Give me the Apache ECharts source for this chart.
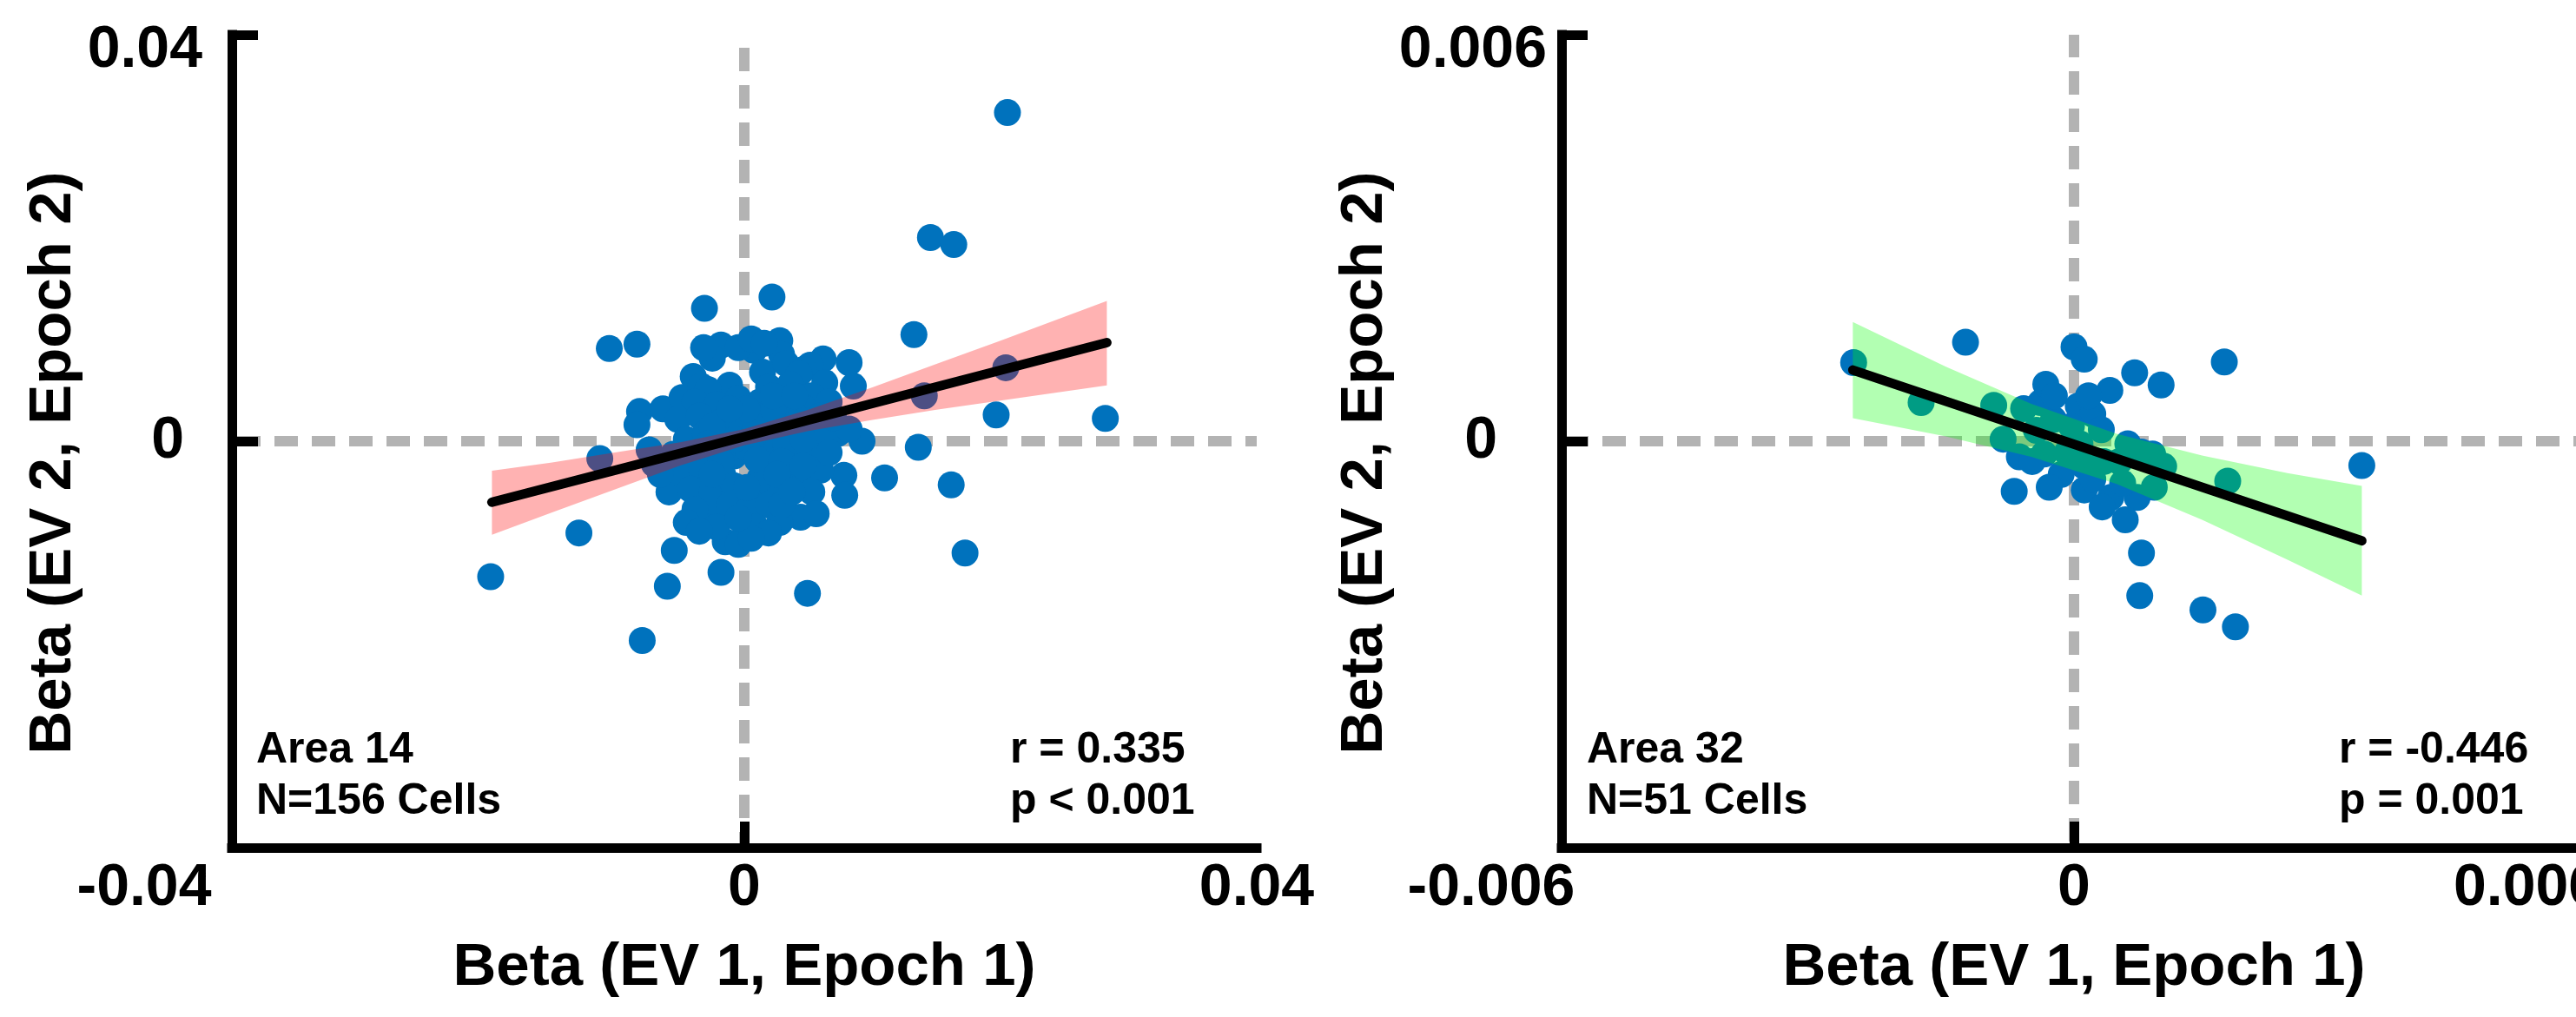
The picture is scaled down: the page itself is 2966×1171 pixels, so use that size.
<!DOCTYPE html>
<html>
<head>
<meta charset="utf-8">
<script src="https://cdn.jsdelivr.net/npm/echarts@6/dist/echarts.min.js"></script>
<style>
  html, body { margin: 0; background: #fff; }
  #chart { width: 2966px; height: 1171px; }
</style>
</head>
<body>
<div id="chart"></div>
<script>
// Area 14 cells: [beta EV1 epoch1, beta EV2 epoch2]
var area14Points = [
  [0.02054, 0.03234], [0.01453, 0.02004], [0.01635, 0.01935], [0.01324, 0.01049], [0.02041, 0.00723],
  [0.01405, 0.00447], [0.01966, 0.00258], [0.02818, 0.00224], [0.01358, -0.00060], [0.01095, -0.00361],
  [0.01615, -0.00430], [0.00777, -0.00335], [0.00784, -0.00533], [0.00818, 0.00774], [0.00851, 0.00542],
  [0.00615, 0.00809], [0.00919, 0.00000], [0.00730, 0.00077], [0.00818, 0.00120], [0.00216, 0.01419],
  [0.00331, -0.00705], [0.00439, -0.00748], [0.00378, -0.00353], [0.00493, -0.00077], [0.01723, -0.01101],
  [0.00493, -0.01497], [0.00514, 0.00748], [0.00277, 0.00989], [0.00074, 0.00895], [0.00000, -0.00817],
  [0.00088, -0.00654], [-0.00311, 0.01308], [-0.01054, 0.00912], [-0.00838, 0.00955], [-0.00182, 0.00946],
  [-0.00250, 0.00817], [-0.00399, 0.00637], [-0.00115, 0.00551], [-0.00818, 0.00292], [-0.00635, 0.00318],
  [-0.00486, 0.00430], [-0.00838, 0.00163], [-0.00743, -0.00086], [-0.01128, -0.00172], [-0.00703, -0.00224],
  [-0.00588, -0.00499], [-0.00270, -0.00688], [-0.00149, -0.00989], [-0.00182, -0.01290], [-0.00547, -0.01075],
  [-0.00601, -0.01428], [-0.01291, -0.00903], [-0.01980, -0.01333], [-0.00797, -0.01961], [0.00291, 0.00852],
  [0.00459, 0.00705], [-0.00338, 0.00542],
  [0.00142, 0.00680], [0.00324, 0.00766], [0.00426, 0.00662], [-0.00284, 0.00508], [0.00189, 0.00533],
  [0.00358, 0.00559], [0.00628, 0.00576], [0.00527, 0.00447], [-0.00385, 0.00387], [-0.00216, 0.00361],
  [-0.00047, 0.00422], [0.00122, 0.00387], [0.00291, 0.00361], [0.00459, 0.00335], [0.00662, 0.00387],
  [-0.00520, 0.00215], [-0.00351, 0.00249], [-0.00182, 0.00189], [-0.00014, 0.00232], [0.00142, 0.00249],
  [0.00291, 0.00163], [0.00426, 0.00215], [0.00595, 0.00249], [-0.00453, 0.00017], [-0.00304, 0.00077],
  [-0.00128, 0.00043], [0.00034, 0.00060], [0.00189, 0.00017], [0.00345, 0.00077], [0.00493, 0.00103],
  [0.00628, 0.00017], [-0.00554, -0.00129], [-0.00385, -0.00155], [-0.00236, -0.00095], [-0.00081, -0.00146],
  [0.00088, -0.00112], [0.00243, -0.00163], [0.00392, -0.00112], [0.00561, -0.00155], [-0.00486, -0.00327],
  [-0.00331, -0.00284], [-0.00169, -0.00327], [0.00155, -0.00327], [0.00324, -0.00284], [0.00480, -0.00353],
  [0.00595, -0.00284], [-0.00419, -0.00473], [-0.00250, -0.00499], [-0.00081, -0.00439], [0.00074, -0.00499],
  [0.00223, -0.00456], [0.00527, -0.00499], [-0.00385, -0.00671], [-0.00115, -0.00628], [0.00034, -0.00671],
  [0.00189, -0.00628], [0.00277, -0.00800], [-0.00216, -0.00843], [0.00088, -0.00843], [0.00189, -0.00903],
  [-0.00047, -0.01015], [0.00054, -0.00955],
  [-0.00047, 0.00146], [0.00088, 0.00146], [0.00020, -0.00069], [0.00155, -0.00198], [-0.00081, 0.00017],
  [-0.00182, -0.00198], [0.00257, -0.00069], [0.00122, -0.00370], [0.00358, -0.00198], [-0.00250, 0.00146],
  [0.00223, 0.00318], [0.00020, 0.00318], [-0.00115, 0.00318], [-0.00284, -0.00026], [0.00324, -0.00026],
  [0.00459, 0.00017], [0.00101, -0.00181], [0.00223, 0.00447], [0.00392, 0.00447], [0.00291, -0.00198],
  [-0.00250, -0.00327], [0.00020, -0.00456], [0.00459, -0.00241], [0.00257, -0.00327], [-0.00047, -0.00757],
  [-0.00318, 0.00920], [-0.00047, 0.00920], [0.00054, 0.01006], [0.00561, -0.00714], [0.00291, -0.00628],
  [0.00372, -0.00499], [-0.00453, -0.00800], [-0.00351, -0.00886], [0.00662, -0.00112], [0.00696, 0.00232],
  [-0.00655, -0.00327], [0.00155, 0.00963]
];

// Area 32 cells
var area32Points = [
  [-0.00258, 0.00116], [-0.00127, 0.00146], [-0.00179, 0.00057], [-0.00094, 0.00053], [-0.00083, 0.00003],
  [-0.00064, -0.00023], [-0.00070, -0.00074], [-0.00035, -0.00019], [-0.00024, 0.00032], [-0.00039, 0.00057],
  [-0.00033, 0.00084], [0.00000, 0.00139], [0.00012, 0.00121], [0.00071, 0.00101], [0.00102, 0.00083],
  [0.00042, 0.00075], [0.00176, 0.00117], [0.00005, 0.00052], [0.00022, 0.00040], [0.00032, 0.00017],
  [0.00079, -0.00016], [0.00105, -0.00037], [0.00180, -0.00059], [0.00337, -0.00036], [-0.00015, -0.00049],
  [0.00012, -0.00072], [0.00043, -0.00083], [0.00074, -0.00083], [0.00057, -0.00062], [0.00012, -0.00037],
  [0.00060, -0.00116], [0.00079, -0.00165], [0.00077, -0.00228], [0.00151, -0.00249], [0.00189, -0.00274],
  [0.00035, -0.00030], [-0.00023, 0.00067], [-0.00003, 0.00022], [-0.00049, -0.00030], [-0.00008, -0.00017],
  [0.00022, -0.00056], [0.00053, -0.00030], [-0.00029, -0.00068], [0.00033, -0.00097], [0.00094, -0.00068],
  [-0.00044, 0.00016], [0.00017, 0.00067], [-0.00059, 0.00048], [0.00063, -0.00004], [0.00092, -0.00019],
  [0.00007, -0.00004]
];

// regression lines (end points)
var area14Fit = [[-0.0197, -0.0060], [0.0283, 0.0097]];
var area32Fit = [[-0.00259, 0.00105], [0.00337, -0.00147]];

// confidence bands
var band14X  = [-0.0197, -0.015, -0.01, -0.005, 0, 0.005, 0.01, 0.015, 0.02, 0.0283];
var band14Lo = [-0.0092, -0.0070, -0.0047, -0.0024, -0.0004, 0.0010, 0.0021, 0.0031, 0.0040, 0.0055];
var band14Hi = [-0.0029, -0.0021, -0.0011, -0.0001, 0.0012, 0.0031, 0.0053, 0.0076, 0.0099, 0.0138];
var band32X  = [-0.00259, -0.0015, -0.0005, 0.0005, 0.0015, 0.0025, 0.00337];
var band32Lo = [0.00034, 0.00007, -0.00023, -0.00063, -0.00116, -0.00175, -0.00228];
var band32Hi = [0.00176, 0.00110, 0.00055, 0.00011, -0.00021, -0.00047, -0.00066];

var ticks14 = ['-0.04', '0', '0.04'];
var ticks32 = ['-0.006', '0', '0.006'];

var FONT = '"Liberation Sans", Arial, Helvetica, sans-serif';
var tickFont = {fontFamily: FONT, fontWeight: 'bold', fontSize: 68, color: '#000'};

function rich(extra) {
  return Object.assign({}, tickFont, extra || {});
}

function tickIndex(v, lim) {
  if (v < -lim / 2) return 0;
  if (v > lim / 2) return 2;
  return 1;
}

function makeXAxis(grid, lim, labels, padLo, padHi) {
  return {
    gridIndex: grid, type: 'value', min: -lim, max: lim, interval: lim, z: 10,
    name: 'Beta (EV 1, Epoch 1)', nameLocation: 'middle', nameGap: 104,
    nameTextStyle: {fontFamily: FONT, fontWeight: 'bold', fontSize: 69, color: '#000'},
    axisLine: {show: true, onZero: false, lineStyle: {color: '#000', width: 11, cap: 'square'}},
    axisTick: {show: true, inside: true, length: 30, customValues: [-lim, 0],
               lineStyle: {color: '#000', width: 11}},
    splitLine: {show: false},
    axisLabel: {
      margin: 13,
      formatter: function (v) {
        var i = tickIndex(v, lim);
        return ['{lo|', '{mid|', '{hi|'][i] + labels[i] + '}';
      },
      rich: {
        lo: rich({padding: [0, padLo, 0, 0]}),
        mid: rich(),
        hi: rich({padding: [0, padHi, 0, 0]})
      }
    }
  };
}

function makeYAxis(grid, lim, labels, margin, padZero) {
  return {
    gridIndex: grid, type: 'value', min: -lim, max: lim, interval: lim, z: 10,
    name: 'Beta (EV 2, Epoch 2)', nameLocation: 'middle', nameGap: 140,
    nameTextStyle: {fontFamily: FONT, fontWeight: 'bold', fontSize: 69, color: '#000',
                    padding: [0, 50, 0, 0]},
    axisLine: {show: true, onZero: false, lineStyle: {color: '#000', width: 11, cap: 'square'}},
    axisTick: {show: true, inside: true, length: 30, customValues: [0, lim],
               lineStyle: {color: '#000', width: 11}},
    splitLine: {show: false},
    axisLabel: {
      margin: margin,
      formatter: function (v) {
        var i = tickIndex(v, lim);
        if (i === 0) return '';
        return (i === 2 ? '{top|' : '{zero|') + labels[i] + '}';
      },
      rich: {
        top: rich({padding: [36, 0, 0, 0]}),
        zero: rich({padding: [0, padZero, 0, 0]})
      }
    }
  };
}

function bandSeries(axis, xs, lo, hi, fill) {
  return {
    type: 'custom', xAxisIndex: axis, yAxisIndex: axis, z: 3, silent: true,
    data: xs.map(function (x, i) { return [x, lo[i], hi[i]]; }),
    encode: {x: 0, y: [1, 2]},
    renderItem: function (params, api) {
      if (params.dataIndex !== 0) return null;
      var pts = [];
      for (var i = 0; i < xs.length; i++) pts.push(api.coord([xs[i], hi[i]]));
      for (var j = xs.length - 1; j >= 0; j--) pts.push(api.coord([xs[j], lo[j]]));
      return {type: 'polygon', shape: {points: pts}, style: {fill: fill}};
    }
  };
}

// dashed zero lines sit under the points; offsets line the dashes up with the figure
function scatterSeries(axis, pts, vOffset, hOffset) {
  return {
    type: 'scatter', xAxisIndex: axis, yAxisIndex: axis, data: pts, z: 2,
    symbol: 'circle', symbolSize: 31, silent: true,
    itemStyle: {color: '#0072BD', opacity: 1},
    markLine: {
      silent: true, symbol: 'none', z: 1, animation: false,
      label: {show: false},
      lineStyle: {color: '#B3B3B3', width: 12, type: [27, 16], opacity: 1},
      emphasis: {disabled: true},
      data: [
        {xAxis: 0, lineStyle: {dashOffset: vOffset}},
        {yAxis: 0, lineStyle: {dashOffset: hOffset}}
      ]
    }
  };
}

function fitSeries(axis, pts) {
  return {
    type: 'line', xAxisIndex: axis, yAxisIndex: axis, data: pts, z: 4,
    symbol: 'none', silent: true,
    lineStyle: {color: '#000', width: 11, cap: 'round'}
  };
}

function note(left, top, text) {
  return {
    type: 'text', left: left, top: top, silent: true,
    style: {text: text, fontFamily: FONT, fontWeight: 'bold', fontSize: 50, lineHeight: 59, fill: '#000'}
  };
}

var chart = echarts.init(document.getElementById('chart'), null, {renderer: 'canvas'});
chart.setOption({
  animation: false,
  backgroundColor: '#fff',
  grid: [
    {left: 267, top: 40, width: 1180, height: 936, containLabel: false, outerBoundsMode: 'none'},
    {left: 1798, top: 40, width: 1180, height: 936, containLabel: false, outerBoundsMode: 'none'}
  ],
  xAxis: [
    makeXAxis(0, 0.04, ticks14, 202, 0),
    makeXAxis(1, 0.006, ticks32, 162, 136)
  ],
  yAxis: [
    makeYAxis(0, 0.04, ticks14, 34, 21),
    makeYAxis(1, 0.006, ticks32, 17, 57)
  ],
  series: [
    scatterSeries(0, area14Points, 9, 37),
    bandSeries(0, band14X, band14Lo, band14Hi, 'rgba(255,0,0,0.3)'),
    fitSeries(0, area14Fit),
    scatterSeries(1, area32Points, 36, 39),
    bandSeries(1, band32X, band32Lo, band32Hi, 'rgba(0,255,0,0.3)'),
    fitSeries(1, area32Fit)
  ],
  graphic: [
    note(295, 835, 'Area 14\nN=156 Cells'),
    note(1163, 835, 'r = 0.335\np < 0.001'),
    note(1827, 835, 'Area 32\nN=51 Cells'),
    note(2693, 835, 'r = -0.446\np = 0.001')
  ]
});
</script>
</body>
</html>
